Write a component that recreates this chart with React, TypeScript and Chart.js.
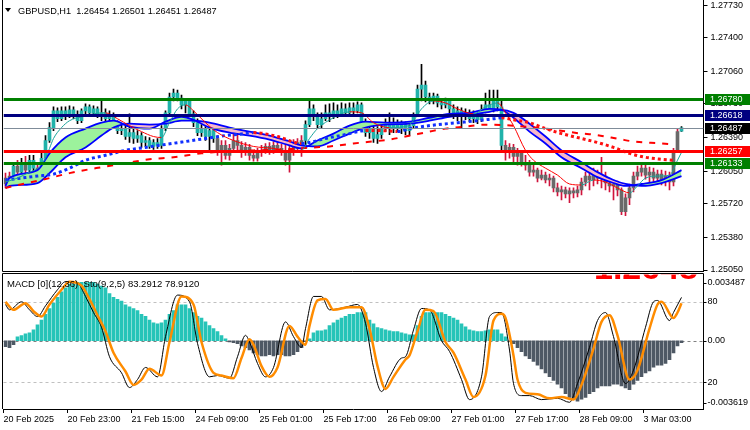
import React, { useEffect, useRef } from 'react';
import { Chart, registerables } from 'chart.js';

Chart.register(...registerables);

const FONT = '"Liberation Sans", Arial, sans-serif';

const SYMBOL_TITLE = 'GBPUSD,H1  1.26454 1.26501 1.26451 1.26487';
const SUB_TITLE = 'MACD [0](12,36)  Sto(9,2,5) 83.2912 78.9120';
const BIG_PRICE_TEXT = '1.2648';

const DATE_LABELS = ['20 Feb 2025', '20 Feb 23:00', '21 Feb 15:00', '24 Feb 09:00', '25 Feb 01:00', '25 Feb 17:00', '26 Feb 09:00', '27 Feb 01:00', '27 Feb 17:00', '28 Feb 09:00', '3 Mar 03:00'];
const BARS_PER_DATE_LABEL = 16;
const EMPTY_BARS_RIGHT = 5;

const PRICE_TICKS = [1.2773, 1.274, 1.2706, 1.2673, 1.2639, 1.2605, 1.2572, 1.2538, 1.2505];
const PRICE_MIN = 1.2504;
const PRICE_MAX = 1.27781;

const LEVEL_PRICES = [1.2678, 1.26618, 1.26257, 1.26133];
const LEVEL_COLORS = ['#008000', '#000080', '#ff0000', '#008000'];

const MACD_MAX = 0.003487;
const MACD_MIN = -0.003619;
const STO_LEVELS = [80, 20];

// [open, high, low, close]
const OHLC = [
  [1.2598, 1.2603, 1.2588, 1.2592], [1.2592, 1.2604, 1.2589, 1.26], [1.26, 1.2614, 1.2596, 1.261], [1.261, 1.2616, 1.26, 1.2604], [1.2604, 1.2618, 1.2601, 1.2611],
  [1.2611, 1.262, 1.2602, 1.2606], [1.2606, 1.2621, 1.2604, 1.2616], [1.2616, 1.2621, 1.2601, 1.2608], [1.2608, 1.2614, 1.2598, 1.2604], [1.2604, 1.2626, 1.2602, 1.2618],
  [1.2618, 1.2641, 1.2616, 1.2636], [1.2636, 1.2654, 1.2634, 1.2649], [1.2649, 1.267, 1.2646, 1.2666], [1.2666, 1.2669, 1.2655, 1.2658], [1.2658, 1.267, 1.2656, 1.2666],
  [1.2666, 1.267, 1.2657, 1.2661], [1.2661, 1.2671, 1.2659, 1.2667], [1.2667, 1.267, 1.2658, 1.2662], [1.2662, 1.2666, 1.2653, 1.2656], [1.2656, 1.2668, 1.2654, 1.2666],
  [1.2666, 1.2673, 1.2663, 1.267], [1.267, 1.2672, 1.2662, 1.2664], [1.2664, 1.2671, 1.266, 1.2668], [1.2668, 1.267, 1.2659, 1.2662], [1.2662, 1.2676, 1.2656, 1.2664],
  [1.2664, 1.2668, 1.2654, 1.2658], [1.2658, 1.2666, 1.2655, 1.2662], [1.2662, 1.2664, 1.2649, 1.2652], [1.2652, 1.2656, 1.2643, 1.2646], [1.2646, 1.2652, 1.2642, 1.2648],
  [1.2648, 1.2651, 1.2637, 1.264], [1.264, 1.2663, 1.2634, 1.2644], [1.2644, 1.2648, 1.2633, 1.2638], [1.2638, 1.2646, 1.2634, 1.2641], [1.2641, 1.2644, 1.2629, 1.2634],
  [1.2634, 1.264, 1.263, 1.2636], [1.2636, 1.2639, 1.2628, 1.263], [1.263, 1.2637, 1.2627, 1.2634], [1.2634, 1.2638, 1.2628, 1.2631], [1.2631, 1.2651, 1.2628, 1.2648],
  [1.2648, 1.2666, 1.2646, 1.2664], [1.2664, 1.2684, 1.2662, 1.268], [1.268, 1.2688, 1.2676, 1.2684], [1.2684, 1.2687, 1.2676, 1.2679], [1.2679, 1.2682, 1.2668, 1.2672],
  [1.2672, 1.2678, 1.2664, 1.2676], [1.2676, 1.2677, 1.266, 1.2663], [1.2663, 1.2666, 1.265, 1.2654], [1.2654, 1.2658, 1.2641, 1.2644], [1.2644, 1.2652, 1.264, 1.2648],
  [1.2648, 1.265, 1.2636, 1.264], [1.264, 1.2649, 1.2626, 1.2646], [1.2646, 1.2649, 1.2634, 1.2638], [1.2638, 1.2641, 1.2621, 1.2626], [1.2626, 1.2636, 1.2611, 1.2631],
  [1.2631, 1.2636, 1.2617, 1.2621], [1.2621, 1.2632, 1.2616, 1.2628], [1.2628, 1.2643, 1.2624, 1.2636], [1.2636, 1.2646, 1.2626, 1.2631], [1.2631, 1.2635, 1.2619, 1.2624],
  [1.2624, 1.2634, 1.2621, 1.2629], [1.2629, 1.2632, 1.2616, 1.2621], [1.2621, 1.2626, 1.2615, 1.2618], [1.2618, 1.2628, 1.2615, 1.2624], [1.2624, 1.2631, 1.262, 1.2626],
  [1.2626, 1.2633, 1.2623, 1.263], [1.263, 1.2634, 1.2622, 1.2626], [1.2626, 1.2635, 1.2623, 1.2631], [1.2631, 1.2634, 1.2624, 1.2628], [1.2628, 1.2632, 1.2621, 1.2625],
  [1.2625, 1.2636, 1.2611, 1.2616], [1.2616, 1.2634, 1.2604, 1.2626], [1.2626, 1.2637, 1.2621, 1.2634], [1.2634, 1.2638, 1.2624, 1.2628], [1.2628, 1.2641, 1.262, 1.2636],
  [1.2636, 1.2656, 1.2628, 1.2652], [1.2652, 1.2676, 1.265, 1.2668], [1.2668, 1.2672, 1.2656, 1.2661], [1.2661, 1.2664, 1.2648, 1.2652], [1.2652, 1.2664, 1.2649, 1.2658],
  [1.2658, 1.2672, 1.2656, 1.2664], [1.2664, 1.2673, 1.2655, 1.266], [1.266, 1.2674, 1.2658, 1.2666], [1.2666, 1.2672, 1.2659, 1.2663], [1.2663, 1.2674, 1.2661, 1.2668],
  [1.2668, 1.2673, 1.2662, 1.2664], [1.2664, 1.2674, 1.2662, 1.2669], [1.2669, 1.2674, 1.2663, 1.2666], [1.2666, 1.2675, 1.2664, 1.2672], [1.2672, 1.2674, 1.265, 1.2654],
  [1.2654, 1.2658, 1.264, 1.2644], [1.2644, 1.2652, 1.2638, 1.2648], [1.2648, 1.2651, 1.2634, 1.2638], [1.2638, 1.265, 1.2633, 1.2642], [1.2642, 1.2652, 1.2638, 1.2648],
  [1.2648, 1.2658, 1.2645, 1.2652], [1.2652, 1.2664, 1.2642, 1.2648], [1.2648, 1.2659, 1.2644, 1.2654], [1.2654, 1.2657, 1.2645, 1.2649], [1.2649, 1.2656, 1.2643, 1.2652],
  [1.2652, 1.2655, 1.2642, 1.2646], [1.2646, 1.2654, 1.2641, 1.2651], [1.2651, 1.2664, 1.2648, 1.2662], [1.2662, 1.2692, 1.266, 1.2688], [1.2688, 1.2713, 1.2676, 1.2692],
  [1.2692, 1.2696, 1.2675, 1.268], [1.268, 1.2684, 1.2673, 1.2676], [1.2676, 1.2684, 1.2673, 1.2681], [1.2681, 1.2683, 1.267, 1.2674], [1.2674, 1.2678, 1.2668, 1.2672],
  [1.2672, 1.2679, 1.2669, 1.2676], [1.2676, 1.2678, 1.2664, 1.2668], [1.2668, 1.2672, 1.2658, 1.2662], [1.2662, 1.267, 1.2656, 1.2666], [1.2666, 1.2669, 1.2649, 1.266],
  [1.266, 1.2668, 1.2657, 1.2664], [1.2664, 1.2667, 1.2655, 1.2658], [1.2658, 1.2666, 1.2654, 1.2662], [1.2662, 1.2665, 1.2653, 1.2657], [1.2657, 1.2672, 1.2655, 1.2666],
  [1.2666, 1.2684, 1.2664, 1.2672], [1.2672, 1.2687, 1.2666, 1.2668], [1.2668, 1.2687, 1.2665, 1.2676], [1.2676, 1.2687, 1.2666, 1.267], [1.267, 1.2676, 1.2626, 1.2631],
  [1.2631, 1.2636, 1.2616, 1.2626], [1.2626, 1.2633, 1.2618, 1.2629], [1.2629, 1.2632, 1.2614, 1.262], [1.262, 1.2628, 1.2611, 1.2624], [1.2624, 1.2626, 1.261, 1.2614],
  [1.2614, 1.2621, 1.2606, 1.2611], [1.2611, 1.2616, 1.26, 1.2604], [1.2604, 1.2611, 1.26, 1.2606], [1.2606, 1.2608, 1.2594, 1.2598], [1.2598, 1.2606, 1.2596, 1.2601],
  [1.2601, 1.2604, 1.2593, 1.2596], [1.2596, 1.2602, 1.259, 1.2598], [1.2598, 1.26, 1.2584, 1.2588], [1.2588, 1.2593, 1.258, 1.2584], [1.2584, 1.259, 1.2576, 1.2586],
  [1.2586, 1.2589, 1.2578, 1.2582], [1.2582, 1.2588, 1.2573, 1.2585], [1.2585, 1.2588, 1.2578, 1.2583], [1.2583, 1.259, 1.2579, 1.2586], [1.2586, 1.2598, 1.2581, 1.2594],
  [1.2594, 1.2604, 1.259, 1.26], [1.26, 1.2606, 1.2586, 1.2596], [1.2596, 1.2608, 1.259, 1.2602], [1.2602, 1.2606, 1.2592, 1.2598], [1.2598, 1.2619, 1.2588, 1.26],
  [1.26, 1.2604, 1.2586, 1.2593], [1.2593, 1.2598, 1.2584, 1.259], [1.259, 1.2596, 1.2576, 1.2592], [1.2592, 1.2595, 1.258, 1.2586], [1.2586, 1.2588, 1.2561, 1.2564],
  [1.2564, 1.2582, 1.256, 1.2578], [1.2578, 1.2592, 1.2571, 1.2588], [1.2588, 1.2604, 1.2584, 1.26], [1.26, 1.261, 1.2596, 1.2604], [1.2604, 1.2612, 1.26, 1.2608],
  [1.2608, 1.2611, 1.2597, 1.2601], [1.2601, 1.2609, 1.2594, 1.2604], [1.2604, 1.2608, 1.2594, 1.2598], [1.2598, 1.2606, 1.2592, 1.2602], [1.2602, 1.2606, 1.2591, 1.2596],
  [1.2596, 1.2605, 1.259, 1.26], [1.26, 1.2604, 1.2586, 1.2594], [1.2594, 1.2628, 1.259, 1.2626], [1.2626, 1.2648, 1.2624, 1.2645], [1.26454, 1.26501, 1.26451, 1.26487],
];

// bar index ranges drawn in the "up" candle colour
const UP_COLOR_RANGES = [[2, 2], [4, 4], [6, 7], [9, 52], [75, 124], [169, 169]];

// [bar index, price]
const CLOUD_FAST = [[0, 1.259], [1, 1.2598], [8, 1.2606], [11, 1.2623], [15, 1.2639], [20, 1.2648], [24, 1.2654], [27, 1.2656], [31, 1.265], [36, 1.2648], [40, 1.2655], [44, 1.266], [47, 1.2657], [51, 1.2649], [56, 1.2644], [61, 1.2641], [66, 1.2637], [71, 1.2631], [74, 1.2628], [78, 1.2636], [82, 1.2643], [86, 1.2651], [90, 1.2655], [95, 1.2654], [101, 1.2655], [106, 1.2659], [111, 1.2663], [116, 1.2664], [121, 1.2668], [124, 1.2667], [127, 1.2659], [131, 1.2645], [135, 1.2633], [139, 1.2619], [144, 1.2608], [148, 1.2599], [152, 1.2593], [155, 1.259], [159, 1.2592], [164, 1.2596], [169, 1.2606]];
const CLOUD_SLOW = [[0, 1.2588], [1, 1.259], [8, 1.2593], [11, 1.2603], [15, 1.2619], [20, 1.2629], [24, 1.2641], [27, 1.2649], [31, 1.2653], [36, 1.2652], [40, 1.2653], [44, 1.2656], [47, 1.2656], [51, 1.2654], [56, 1.2649], [61, 1.2645], [66, 1.2641], [71, 1.2635], [74, 1.2631], [78, 1.263], [82, 1.2636], [86, 1.2643], [90, 1.2649], [95, 1.2652], [101, 1.2653], [106, 1.2656], [111, 1.266], [116, 1.2662], [121, 1.2665], [124, 1.2667], [127, 1.2664], [131, 1.2653], [135, 1.264], [139, 1.2626], [144, 1.2614], [148, 1.2604], [152, 1.2596], [155, 1.2592], [159, 1.259], [164, 1.2593], [169, 1.26]];
const MA_THIN = [[0, 1.2594], [3, 1.2598], [6, 1.2604], [8, 1.2608], [10, 1.2618], [11, 1.2628], [12, 1.2638], [14, 1.2649], [16, 1.2656], [19, 1.266], [22, 1.2663], [25, 1.2664], [28, 1.2658], [31, 1.2651], [34, 1.2645], [37, 1.264], [39, 1.2639], [41, 1.2654], [43, 1.2668], [45, 1.2672], [47, 1.2666], [50, 1.2654], [53, 1.2644], [57, 1.2636], [62, 1.263], [67, 1.2628], [71, 1.2625], [74, 1.2626], [76, 1.2638], [78, 1.2648], [82, 1.2659], [86, 1.2665], [89, 1.2664], [92, 1.2654], [96, 1.2649], [100, 1.265], [102, 1.2656], [104, 1.2668], [107, 1.2676], [110, 1.2674], [113, 1.2668], [117, 1.2663], [120, 1.267], [123, 1.2674], [125, 1.2664], [127, 1.2651], [130, 1.2626], [132, 1.2616], [135, 1.2608], [138, 1.2601], [141, 1.2592], [144, 1.2591], [147, 1.2596], [150, 1.2594], [153, 1.2588], [156, 1.2583], [158, 1.259], [160, 1.2598], [163, 1.26], [166, 1.2601], [168, 1.2616], [169, 1.2624]];
const MA_DOTTED = [[0, 1.2596], [4, 1.2598], [8, 1.26], [12, 1.2602], [16, 1.2608], [20, 1.2616], [25, 1.2621], [30, 1.2626], [35, 1.2629], [40, 1.2632], [45, 1.2635], [50, 1.2638], [55, 1.2641], [60, 1.2643], [62, 1.2644], [68, 1.264], [74, 1.2633], [76, 1.2634], [80, 1.2638], [85, 1.2642], [90, 1.2646], [94, 1.2646], [98, 1.2645], [101, 1.2648], [104, 1.265], [108, 1.2652], [113, 1.2654], [118, 1.2656], [122, 1.2658], [124, 1.2659], [127, 1.2657], [131, 1.2654], [135, 1.2648], [139, 1.2643], [144, 1.2638], [148, 1.2634], [152, 1.2629], [156, 1.2623], [160, 1.2619], [164, 1.2617], [167, 1.2616]];
const MA_DASHED = [[0, 1.2588], [2, 1.259], [9, 1.2596], [16, 1.2603], [24, 1.2609], [30, 1.2613], [36, 1.2617], [42, 1.2619], [49, 1.2623], [55, 1.2625], [62, 1.2626], [70, 1.2627], [77, 1.2629], [81, 1.263], [87, 1.2633], [96, 1.2637], [100, 1.264], [106, 1.2645], [110, 1.2648], [115, 1.265], [120, 1.2652], [127, 1.2651], [135, 1.2648], [144, 1.2643], [147, 1.2642], [154, 1.2637], [157, 1.2635], [164, 1.2633], [167, 1.2632]];

const MACD_HIST = [
  -0.00032, -0.00037, -0.00021, 0.00021, 0.00027, 0.00037, 0.00042, 0.00058, 0.00085, 0.0011,
  0.0014, 0.0017, 0.002, 0.0023, 0.0026, 0.0028, 0.003, 0.003, 0.0031, 0.0031,
  0.0031, 0.0031, 0.0031, 0.003, 0.0029, 0.0028, 0.0025, 0.0023, 0.0022, 0.0021,
  0.0019, 0.0018, 0.0017, 0.0016, 0.0014, 0.0013, 0.0011, 0.00095, 0.0009, 0.00095,
  0.0011, 0.0014, 0.0016, 0.0019, 0.0019, 0.0019, 0.0017, 0.0015, 0.0013, 0.0012,
  0.001, 0.0008, 0.00064, 0.00048, 0.00027, 0.0001, -0.00006, -0.0001, -0.00016, -0.00027,
  -0.00037, -0.00048, -0.00064, -0.00074, -0.0008, -0.0008, -0.00074, -0.0008, -0.00074, -0.00074,
  -0.0008, -0.0008, -0.00074, -0.00058, -0.00037, -0.00005, 0.0001, 0.00042, 0.00053, 0.00053,
  0.00058, 0.0008, 0.00095, 0.0011, 0.0012, 0.0013, 0.0014, 0.0014, 0.0015, 0.0015,
  0.0015, 0.0011, 0.0009, 0.0007, 0.00064, 0.00058, 0.00053, 0.00048, 0.00048, 0.00042,
  0.00037, 0.00032, 0.00032, 0.0008, 0.0013, 0.0015, 0.0015, 0.0015, 0.0015, 0.0015,
  0.0014, 0.0013, 0.0012, 0.0011, 0.0009, 0.00074, 0.00058, 0.00053, 0.00048, 0.00048,
  0.00053, 0.00058, 0.00058, 0.00058, 0.00037, 0.00021, -0.00002, -0.00016, -0.00037, -0.00058,
  -0.0008, -0.00095, -0.0011, -0.0013, -0.0015, -0.0017, -0.0019, -0.0021, -0.0023, -0.0025,
  -0.0028, -0.003, -0.0031, -0.0032, -0.0031, -0.003, -0.0028, -0.0027, -0.0025, -0.0024,
  -0.0024, -0.0024, -0.0023, -0.0023, -0.0024, -0.0025, -0.0026, -0.0023, -0.0021, -0.0019,
  -0.0017, -0.0016, -0.0014, -0.0013, -0.0013, -0.0012, -0.001, -0.00064, -0.00027, -0.0001,
];

// [bar index, value]
const STOCH_MAIN = [[0, 78], [1, 74], [4, 80], [6, 74], [8, 69], [10, 77], [13, 89], [15, 95], [18, 94], [20, 84], [22, 72], [24, 61], [26, 39], [29, 27], [31, 16], [33, 22], [35, 31], [38, 24], [40, 54], [43, 85], [46, 80], [48, 49], [51, 24], [53, 25], [56, 23], [58, 39], [60, 55], [61, 50], [63, 34], [65, 24], [67, 31], [70, 65], [72, 54], [74, 46], [75, 60], [77, 84], [79, 84], [81, 74], [85, 76], [88, 78], [90, 64], [92, 31], [94, 13], [96, 24], [99, 38], [100, 39], [102, 59], [104, 75], [106, 74], [109, 51], [111, 43], [114, 22], [116, 7], [119, 24], [121, 69], [123, 72], [124, 72], [126, 44], [127, 19], [129, 10], [131, 10], [134, 7], [138, 8], [141, 5], [143, 19], [146, 46], [148, 66], [150, 72], [152, 54], [155, 19], [157, 29], [160, 61], [162, 80], [163, 81], [166, 66], [167, 72], [169, 83.29]];
const STOCH_SIGNAL = [[0, 80], [2, 74], [5, 79], [7, 73], [9, 69], [11, 78], [14, 89], [16, 95], [19, 92], [21, 82], [23, 70], [25, 58], [27, 42], [30, 28], [32, 18], [34, 22], [36, 30], [39, 25], [41, 50], [44, 84], [47, 78], [49, 50], [52, 27], [54, 25], [57, 23], [59, 38], [61, 52], [62, 48], [64, 32], [66, 24], [68, 31], [71, 62], [73, 54], [75, 48], [76, 62], [78, 81], [80, 82], [82, 74], [86, 76], [89, 76], [91, 60], [93, 32], [95, 15], [97, 24], [100, 37], [101, 40], [103, 58], [105, 74], [107, 73], [110, 50], [112, 42], [115, 22], [117, 9], [120, 25], [122, 66], [124, 71], [125, 68], [127, 40], [128, 22], [130, 12], [133, 11], [136, 8], [139, 9], [142, 7], [144, 18], [147, 45], [149, 65], [151, 70], [153, 55], [156, 22], [158, 29], [161, 60], [163, 78], [164, 80], [167, 68], [168, 72], [169, 78.91]];

const C_UP_BODY = '#20b2aa';
const C_DOWN_BODY = '#696969';
const C_UP_WICK = '#000000';
const C_DOWN_WICK = '#d0143c';
const C_HIST_UP = '#26c4b8';
const C_HIST_DOWN = '#4e5864';

const N_BARS = OHLC.length;
const X_MIN = -0.5;
const X_MAX = N_BARS + EMPTY_BARS_RIGHT - 0.5;
const LAST_PRICE = OHLC[N_BARS - 1][3];

const PLOT_LEFT = 3.5;
const AXIS_WIDTH = 46.5;

const toXY = (arr: number[][]) => arr.map(([x, y]) => ({ x, y }));
const isUpColor = (i: number) => UP_COLOR_RANGES.some(([a, b]) => i >= a && i <= b);
const dirColor = (up: string, down: string) => (ctx: any) => (ctx.p1.parsed.y > ctx.p0.parsed.y ? up : down);
const font = (size: number, weight = 'normal') => `${weight} ${size}px ${FONT}`;

function mainConfig(): any {
  const bodies = OHLC.map(([o, , , c], i) => ({ x: i, y: [Math.min(o, c), Math.max(o, c)] }));
  const wicks = OHLC.map(([, h, l], i) => ({ x: i, y: [l, h] }));
  const bodyColors = OHLC.map((_, i) => (isUpColor(i) ? C_UP_BODY : C_DOWN_BODY));
  const wickColors = OHLC.map((_, i) => (isUpColor(i) ? C_UP_WICK : C_DOWN_WICK));

  const overlay = {
    id: 'mainOverlay',
    afterDatasetsDraw(chart: any) {
      const { ctx, chartArea: a, scales } = chart;
      const y = scales.y;
      ctx.save();
      ctx.beginPath();
      ctx.rect(a.left, a.top, a.right - a.left, a.bottom - a.top);
      ctx.clip();
      const yl = Math.round(y.getPixelForValue(LAST_PRICE)) + 0.5;
      ctx.strokeStyle = '#7f8c99';
      ctx.lineWidth = 1;
      ctx.beginPath();
      ctx.moveTo(a.left, yl);
      ctx.lineTo(a.right, yl);
      ctx.stroke();
      LEVEL_PRICES.forEach((p, k) => {
        const yy = Math.round(y.getPixelForValue(p)) + 0.5;
        ctx.strokeStyle = LEVEL_COLORS[k];
        ctx.lineWidth = 3;
        ctx.beginPath();
        ctx.moveTo(a.left, yy);
        ctx.lineTo(a.right, yy);
        ctx.stroke();
      });
      ctx.restore();
    },
    afterDraw(chart: any) {
      const { ctx, chartArea: a, scales } = chart;
      const y = scales.y;
      const lx = Math.floor(a.left) - 0.5;
      const rx = Math.floor(a.right);
      ctx.save();
      ctx.strokeStyle = '#000';
      ctx.lineWidth = 1;
      ctx.beginPath();
      ctx.moveTo(lx, 0);
      ctx.lineTo(lx, Math.round(a.bottom) + 0.5);
      ctx.lineTo(rx, Math.round(a.bottom) + 0.5);
      ctx.stroke();

      // header
      ctx.fillStyle = '#000';
      ctx.beginPath();
      ctx.moveTo(5, 8);
      ctx.lineTo(11, 8);
      ctx.lineTo(8, 12);
      ctx.closePath();
      ctx.fill();
      ctx.font = font(9.2);
      ctx.textBaseline = 'middle';
      ctx.textAlign = 'left';
      ctx.fillText(SYMBOL_TITLE, 18, 11);

      // price boxes
      const box = (p: number, bg: string) => {
        const yy = Math.round(y.getPixelForValue(p));
        ctx.fillStyle = bg;
        ctx.fillRect(rx + 2, yy - 5, 750 - rx - 2, 11);
        ctx.fillStyle = '#fff';
        ctx.font = font(9);
        ctx.fillText(p.toFixed(5), rx + 7, yy + 0.5);
      };
      LEVEL_PRICES.forEach((p, k) => box(p, LEVEL_COLORS[k]));
      box(LAST_PRICE, '#000');
      ctx.restore();
    },
  };

  return {
    type: 'bar',
    data: {
      datasets: [
        {
          type: 'line', data: toXY(CLOUD_FAST), borderColor: '#0000ff', borderWidth: 1.8, pointRadius: 0,
          cubicInterpolationMode: 'monotone', fill: { target: '+1', above: '#9cf29c', below: '#f8b8c8' }, order: 10,
        },
        { type: 'line', data: toXY(CLOUD_SLOW), borderColor: '#0000ff', borderWidth: 1.8, pointRadius: 0, cubicInterpolationMode: 'monotone', fill: false, order: 9 },
        { type: 'line', data: toXY(MA_DASHED), borderColor: '#ff0000', borderWidth: 2, borderDash: [6, 7], pointRadius: 0, cubicInterpolationMode: 'monotone', fill: false, order: 8 },
        {
          type: 'line', data: toXY(MA_DOTTED), borderColor: '#0000ff', borderWidth: 3, borderDash: [3, 3], borderCapStyle: 'butt', pointRadius: 0,
          cubicInterpolationMode: 'monotone', fill: false, order: 7, segment: { borderColor: dirColor('#1030ff', '#ff1010') },
        },
        {
          type: 'line', data: toXY(MA_THIN), borderColor: C_UP_BODY, borderWidth: 1, pointRadius: 0,
          cubicInterpolationMode: 'monotone', fill: false, order: 6, segment: { borderColor: dirColor('#1aa39a', '#ff0000') },
        },
        { type: 'bar', data: wicks, backgroundColor: wickColors, barThickness: 1, grouped: false, order: 21, borderWidth: 0 },
        { type: 'bar', data: bodies, backgroundColor: bodyColors, barThickness: 3, grouped: false, minBarLength: 1, order: 20, borderWidth: 0 },
      ],
    },
    options: {
      responsive: false,
      devicePixelRatio: 1,
      animation: false,
      events: [],
      layout: { padding: { left: PLOT_LEFT, right: 0, top: 0, bottom: 1 } },
      plugins: { legend: { display: false }, tooltip: { enabled: false } },
      scales: {
        x: { type: 'linear', min: X_MIN, max: X_MAX, display: false, offset: false, grid: { offset: false } },
        y: {
          type: 'linear', position: 'right', min: PRICE_MIN, max: PRICE_MAX, beginAtZero: false,
          afterBuildTicks: (s: any) => { s.ticks = PRICE_TICKS.map((v) => ({ value: v })); },
          afterFit: (s: any) => { s.width = AXIS_WIDTH; s.paddingTop = 0; s.paddingBottom = 0; },
          grid: { drawOnChartArea: false, drawTicks: true, tickLength: 4, color: '#000' },
          border: { display: true, color: '#000' },
          ticks: { autoSkip: false, padding: 3, color: '#000', font: { family: FONT, size: 9 }, callback: (v: any) => Number(v).toFixed(5) },
        },
      },
    },
    plugins: [overlay],
  };
}

function subConfig(): any {
  const overlay = {
    id: 'subOverlay',
    beforeDatasetsDraw(chart: any) {
      const { ctx, chartArea: a, scales } = chart;
      ctx.save();
      ctx.lineWidth = 1;
      ctx.setLineDash([3, 3]);
      STO_LEVELS.forEach((v) => {
        const yy = Math.round(scales.y2.getPixelForValue(v)) + 0.5;
        ctx.strokeStyle = '#c0c0c0';
        ctx.beginPath();
        ctx.moveTo(a.left, yy);
        ctx.lineTo(a.right, yy);
        ctx.stroke();
      });
      const y0 = Math.round(scales.y.getPixelForValue(0)) + 0.5;
      ctx.strokeStyle = '#808080';
      ctx.beginPath();
      ctx.moveTo(a.left, y0);
      ctx.lineTo(a.right, y0);
      ctx.stroke();
      ctx.restore();
    },
    afterDatasetsDraw(chart: any) {
      const { ctx } = chart;
      ctx.save();
      ctx.fillStyle = '#000';
      ctx.font = font(9.5);
      ctx.textBaseline = 'middle';
      ctx.textAlign = 'left';
      ctx.fillText(SUB_TITLE, 7, 12);
      ctx.restore();
    },
    afterDraw(chart: any) {
      const { ctx, chartArea: a, scales } = chart;
      const lx = Math.floor(a.left) - 0.5;
      const rx = Math.floor(a.right) + 0.5;
      const ty = Math.round(a.top) - 1.5;
      ctx.save();
      // big red price text, mostly hidden above the panel
      ctx.beginPath();
      ctx.rect(a.left, ty + 1, a.right - a.left, a.bottom - ty);
      ctx.clip();
      ctx.fillStyle = '#ff0000';
      ctx.font = font(34, 'bold');
      ctx.textBaseline = 'alphabetic';
      ctx.textAlign = 'left';
      ctx.fillText(BIG_PRICE_TEXT, 594, 6.5);
      ctx.restore();

      ctx.save();
      ctx.strokeStyle = '#000';
      ctx.lineWidth = 1;
      ctx.beginPath();
      ctx.moveTo(lx, ty);
      ctx.lineTo(rx, ty);
      ctx.lineTo(rx, a.bottom);
      ctx.moveTo(lx, ty);
      ctx.lineTo(lx, a.bottom);
      ctx.stroke();

      ctx.fillStyle = '#000';
      ctx.font = font(9);
      ctx.textBaseline = 'middle';
      ctx.textAlign = 'left';
      const clampY = (v: number) => Math.max(a.top + 8, Math.min(a.bottom - 6, v));
      const labels: [string, number][] = [
        [MACD_MAX.toFixed(6), clampY(scales.y.getPixelForValue(MACD_MAX))],
        [String(STO_LEVELS[0]), scales.y2.getPixelForValue(STO_LEVELS[0])],
        [(0).toFixed(2), scales.y.getPixelForValue(0)],
        [String(STO_LEVELS[1]), scales.y2.getPixelForValue(STO_LEVELS[1])],
        [MACD_MIN.toFixed(6), clampY(scales.y.getPixelForValue(MACD_MIN))],
      ];
      labels.forEach(([t, yy]) => {
        ctx.fillText(t, rx + 4, yy);
        ctx.beginPath();
        ctx.moveTo(rx, Math.round(yy) + 0.5);
        ctx.lineTo(rx + 3, Math.round(yy) + 0.5);
        ctx.stroke();
      });
      ctx.restore();
    },
  };

  return {
    type: 'bar',
    data: {
      datasets: [
        { type: 'line', data: toXY(STOCH_SIGNAL), yAxisID: 'y2', borderColor: '#ff8c00', borderWidth: 2.5, pointRadius: 0, cubicInterpolationMode: 'monotone', fill: false, order: 1 },
        { type: 'line', data: toXY(STOCH_MAIN), yAxisID: 'y2', borderColor: '#000000', borderWidth: 1, pointRadius: 0, cubicInterpolationMode: 'monotone', fill: false, order: 2 },
        {
          type: 'bar', data: MACD_HIST.map((v, i) => ({ x: i, y: v })), yAxisID: 'y',
          backgroundColor: MACD_HIST.map((v) => (v >= 0 ? C_HIST_UP : C_HIST_DOWN)), barThickness: 3, grouped: false, borderWidth: 0, order: 5,
        },
      ],
    },
    options: {
      responsive: false,
      devicePixelRatio: 1,
      animation: false,
      events: [],
      layout: { padding: { left: PLOT_LEFT, right: AXIS_WIDTH, top: 3, bottom: 0 } },
      plugins: { legend: { display: false }, tooltip: { enabled: false } },
      scales: {
        x: {
          type: 'linear', position: 'bottom', min: X_MIN, max: X_MAX, offset: false,
          afterBuildTicks: (s: any) => { s.ticks = DATE_LABELS.map((_, k) => ({ value: X_MIN + k * BARS_PER_DATE_LABEL })); },
          afterFit: (s: any) => { s.height = 21; s.paddingLeft = 0; s.paddingRight = 0; },
          grid: { drawOnChartArea: false, drawTicks: true, tickLength: 4, color: '#000', offset: false },
          border: { display: true, color: '#000' },
          ticks: {
            autoSkip: false, maxRotation: 0, minRotation: 0, align: 'start', padding: 1, color: '#000',
            font: { family: FONT, size: 9 }, callback: (_v: any, i: number) => DATE_LABELS[i],
          },
        },
        y: { type: 'linear', min: MACD_MIN, max: MACD_MAX, display: false, beginAtZero: false },
        y2: { type: 'linear', min: 0, max: 100, display: false },
      },
    },
    plugins: [overlay],
  };
}

export default function App() {
  const topRef = useRef<HTMLCanvasElement>(null);
  const botRef = useRef<HTMLCanvasElement>(null);

  useEffect(() => {
    Chart.defaults.font.family = FONT;
    const c1 = new Chart(topRef.current as HTMLCanvasElement, mainConfig());
    const c2 = new Chart(botRef.current as HTMLCanvasElement, subConfig());
    return () => {
      c1.destroy();
      c2.destroy();
    };
  }, []);

  return (
    <div style={{ position: 'absolute', left: 0, top: 0, width: 750, height: 430, background: '#fff', overflow: 'hidden' }}>
      <canvas ref={topRef} width={750} height={272} style={{ position: 'absolute', left: 0, top: 0, width: 750, height: 272 }} />
      <canvas ref={botRef} width={750} height={158} style={{ position: 'absolute', left: 0, top: 272, width: 750, height: 158 }} />
    </div>
  );
}
